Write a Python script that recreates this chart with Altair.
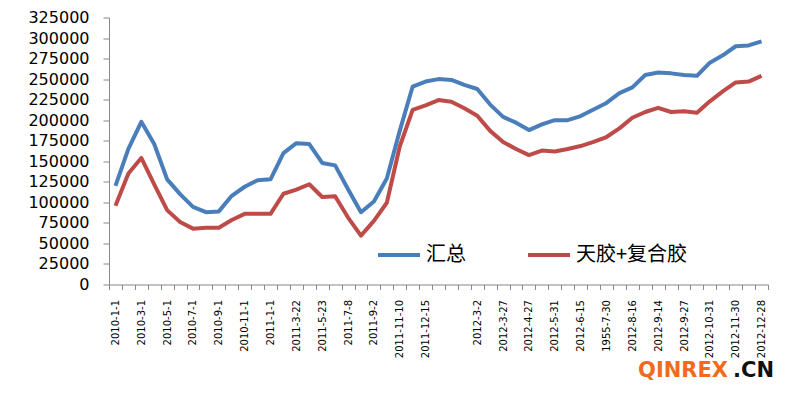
import json
import altair as alt
import pandas as pd

# x-axis categories (only every other one is labelled in the original)
labels = [
    "2010-1-1", "", "2010-3-1", "", "2010-5-1", "", "2010-7-1", "", "2010-9-1", "",
    "2010-11-1", "", "2011-1-1", "", "2011-3-22", "", "2011-5-23", "", "2011-7-8", "",
    "2011-9-2", "", "2011-11-10", "", "2011-12-15", "", "", "", "2012-3-2", "",
    "2012-3-27", "", "2012-4-27", "", "2012-5-31", "", "2012-6-15", "", "1955-7-30", "",
    "2012-8-16", "", "2012-9-14", "", "2012-9-27", "", "2012-10-31", "", "2012-11-30", "",
    "2012-12-28",
]

total = [
    120000, 165000, 198000, 171000, 128000, 110000, 94500, 88000, 89000, 108000,
    119000, 127000, 128000, 160000, 172000, 171000, 148000, 145000, 116000, 88000,
    101000, 129000, 187000, 241000, 247000, 250000, 249000, 243000, 238000, 219000,
    204000, 197000, 188000, 195000, 200000, 200000, 205000, 213000, 221000, 233000,
    240000, 255000, 258000, 257000, 255000, 254000, 270000, 279000, 290000, 291000,
    296000,
]

rubber = [
    96000, 135000, 154000, 122000, 90500, 76000, 68000, 69000, 69000, 78500,
    86000, 86000, 86000, 110500, 115500, 122000, 106500, 107500, 81500, 59500,
    77500, 99500, 168000, 212500, 218000, 224500, 222500, 214500, 205500, 187000,
    173500, 165000, 157500, 163000, 162000, 165000, 168500, 173500, 179500, 190000,
    203000, 210000, 215000, 210000, 211000, 209000, 223000, 235000, 246000, 247000,
    254000,
]

series_names = ["汇总", "天胶+复合胶"]
colors = ["#4A7EBB", "#BE4B48"]
y_ticks = list(range(0, 325001, 25000))

rows = []
for name, vals in zip(series_names, [total, rubber]):
    for i, v in enumerate(vals):
        rows.append({"i": i, "series": name, "value": v})
df = pd.DataFrame(rows)

label_expr = json.dumps(labels, ensure_ascii=False) + "[datum.value]"

lines = alt.Chart(df).mark_line(strokeWidth=4, strokeJoin="round").encode(
    x=alt.X(
        "i:O",
        bandPosition=0.5,
        scale=alt.Scale(type="band", paddingInner=0, paddingOuter=0),
        axis=alt.Axis(
            title=None,
            labelExpr=label_expr,
            labelAngle=270,
            labelFontSize=10,
            labelFont="DejaVu Sans",
            labelColor="#000000",
            labelPadding=10,
            tickBand="extent",
            tickSize=5,
            tickColor="#888888",
            domainColor="#888888",
            grid=False,
            labelOverlap=False,
        ),
    ),
    y=alt.Y(
        "value:Q",
        scale=alt.Scale(domain=[0, 325000], nice=False),
        axis=alt.Axis(
            title=None,
            values=y_ticks,
            format="d",
            grid=False,
            labelFontSize=16,
            labelFont="DejaVu Sans",
            labelColor="#000000",
            labelPadding=14,
            tickSize=6,
            tickColor="#888888",
            domainColor="#888888",
        ),
    ),
    color=alt.Color(
        "series:N",
        sort=series_names,
        scale=alt.Scale(domain=series_names, range=colors),
        legend=alt.Legend(
            title=None,
            orient="none",
            legendX=267,
            legendY=214.5,
            direction="horizontal",
            symbolType="stroke",
            symbolSize=1764,
            symbolStrokeWidth=4,
            labelFontSize=20,
            labelFont="Noto Sans CJK SC",
            labelColor="#000000",
            labelOffset=4,
            columnPadding=54,
        ),
    ),
)

wm1 = alt.Chart(pd.DataFrame({"t": ["QINREX"]})).mark_text(
    align="right", baseline="alphabetic", font="DejaVu Sans", fontWeight="bold",
    fontSize=21, color="#F26B1D"
).encode(text="t:N", x=alt.value(619), y=alt.value(359.5))

wm2 = alt.Chart(pd.DataFrame({"t": [".CN"]})).mark_text(
    align="left", baseline="alphabetic", font="DejaVu Sans", fontWeight="bold",
    fontSize=21, color="#111111"
).encode(text="t:N", x=alt.value(624), y=alt.value(359.5))

chart = alt.layer(lines, wm1, wm2).properties(
    width=659,
    height=267,
    autosize=alt.AutoSizeParams(type="none"),
    padding={"left": 101, "top": 9.5, "right": 24, "bottom": 100.5},
).configure_view(stroke=None)

chart.save("out.html", embed_options={"renderer": "svg", "actions": False})
